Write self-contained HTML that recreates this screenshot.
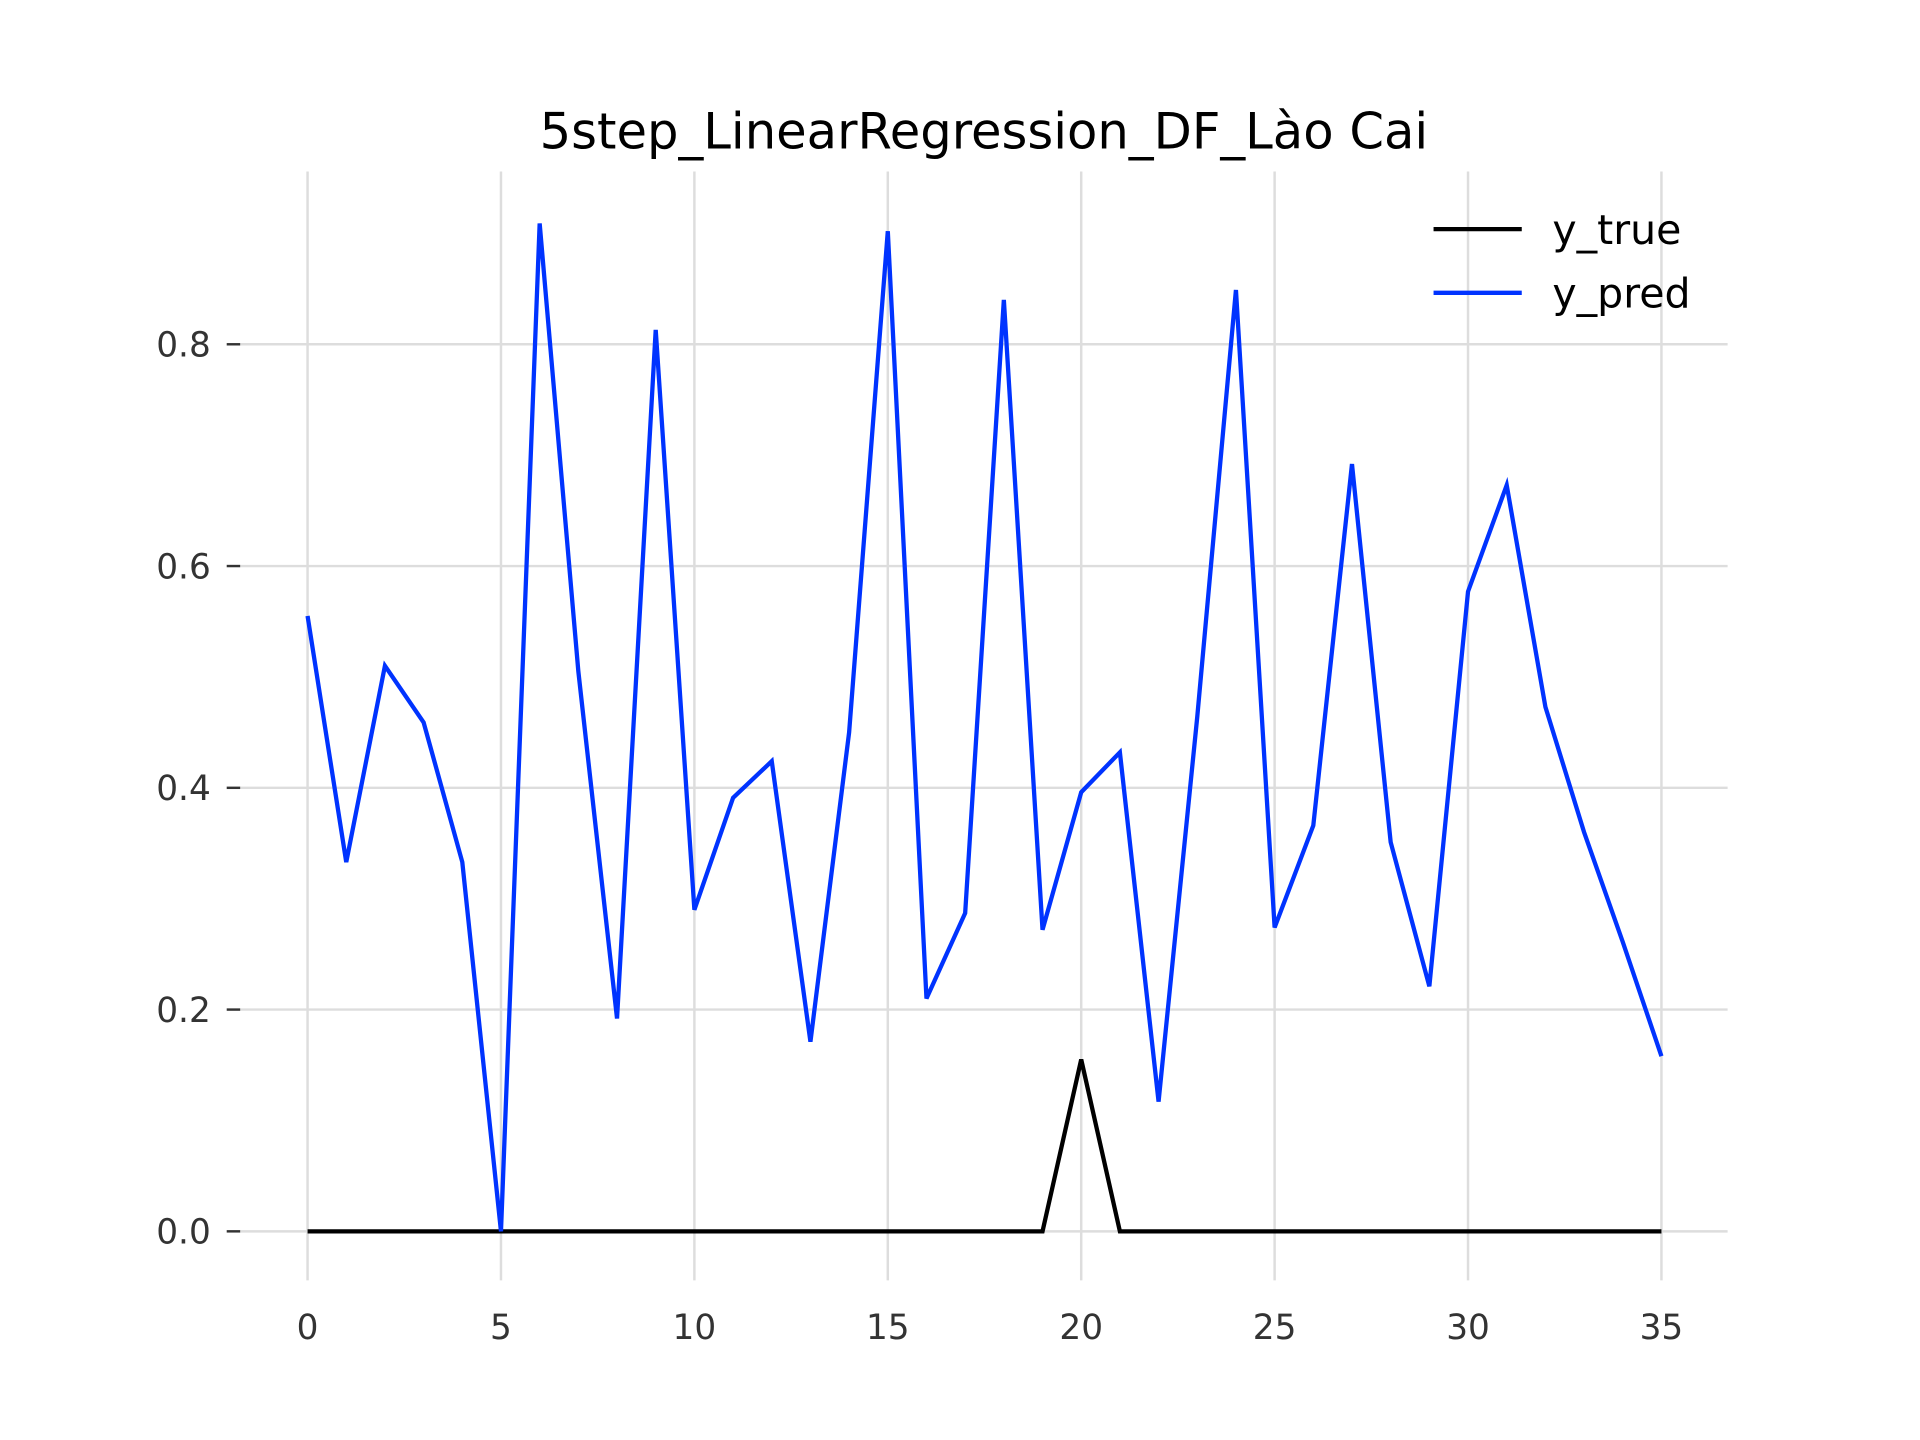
<!DOCTYPE html>
<html><head><meta charset="utf-8"><style>html,body{margin:0;padding:0;background:#fff}svg{display:block}</style></head>
<body>
<svg id="chart" width="1920" height="1440" viewBox="0 0 1567 1175.3" xmlns="http://www.w3.org/2000/svg" font-family="'DejaVu Sans','Liberation Sans',sans-serif">
<rect width="1567" height="1175.3" fill="#fff"/>
<text x="803" y="121" text-anchor="middle" font-size="40.5" fill="#000">5step_LinearRegression_DF_Lào Cai</text>
<g id="grid"></g><g id="axes"></g><g id="series"></g>
<g>
<line x1="1170" y1="187" x2="1242" y2="187" stroke="#000" stroke-width="3.5"/>
<text x="1267" y="199" font-size="33.5" fill="#000">y_true</text>
<line x1="1170" y1="239" x2="1242" y2="239" stroke="#0033ff" stroke-width="3.5"/>
<text x="1267" y="251" font-size="33.5" fill="#000">y_pred</text>
</g>
</svg>
<script>
const xTicks = [0,5,10,15,20,25,30,35];
const yTicks = [0.0,0.2,0.4,0.6,0.8];
const yTickLabels = ["0.0","0.2","0.4","0.6","0.8"];
const yTrue = [0,0,0,0,0,0,0,0,0,0,0,0,0,0,0,0,0,0,0,0,0.155,0,0,0,0,0,0,0,0,0,0,0,0,0,0,0];
const yPred = [0.555,0.333,0.510,0.459,0.333,0,0.909,0.505,0.192,0.813,0.290,0.391,0.424,0.171,0.450,0.902,0.210,0.287,0.840,0.272,0.396,0.432,0.117,0.464,0.849,0.274,0.366,0.692,0.351,0.221,0.577,0.673,0.473,0.360,0.261,0.158];

const NS="http://www.w3.org/2000/svg";
const sx = v => 251 + v*(1356-251)/35;
const sy = v => 1005 - v*905;
const L=196,R=1410,T=140,B=1045;
function mk(tag, parent, attrs){const e=document.createElementNS(NS,tag);for(const k in attrs)e.setAttribute(k,attrs[k]);parent.appendChild(e);return e;}
const grid=document.getElementById('grid'), axes=document.getElementById('axes'), series=document.getElementById('series');
xTicks.forEach(t=>{
  const g=mk('line',grid,{x1:sx(t),x2:sx(t),y1:T,y2:B,stroke:'#dddddd','stroke-width':2});
  
  
  const tx=mk('text',axes,{x:sx(t),y:1093,'text-anchor':'middle','font-size':28,fill:'#333'});
  tx.textContent=t;
  
  
});
yTicks.forEach((t,i)=>{
  const g=mk('line',grid,{x1:L,x2:R,y1:sy(t),y2:sy(t),stroke:'#dddddd','stroke-width':2});
  
  
  const tk=mk('line',axes,{x1:185,x2:196,y1:sy(t),y2:sy(t),stroke:'#333','stroke-width':2});
  
  
  const tx=mk('text',axes,{x:172,y:sy(t)+10,'text-anchor':'end','font-size':28,fill:'#333'});
  tx.textContent=yTickLabels[i];
  
  
});
function line(data,color,name){
  const p=mk('polyline',series,{points:data.map((v,i)=>sx(i)+','+sy(v)).join(' '),fill:'none',stroke:color,'stroke-width':3.5,'stroke-linejoin':'miter'});
  
  
}
line(yTrue,'#000','series-y-true');
line(yPred,'#0033ff','series-y-pred');
</script>
</body></html>
